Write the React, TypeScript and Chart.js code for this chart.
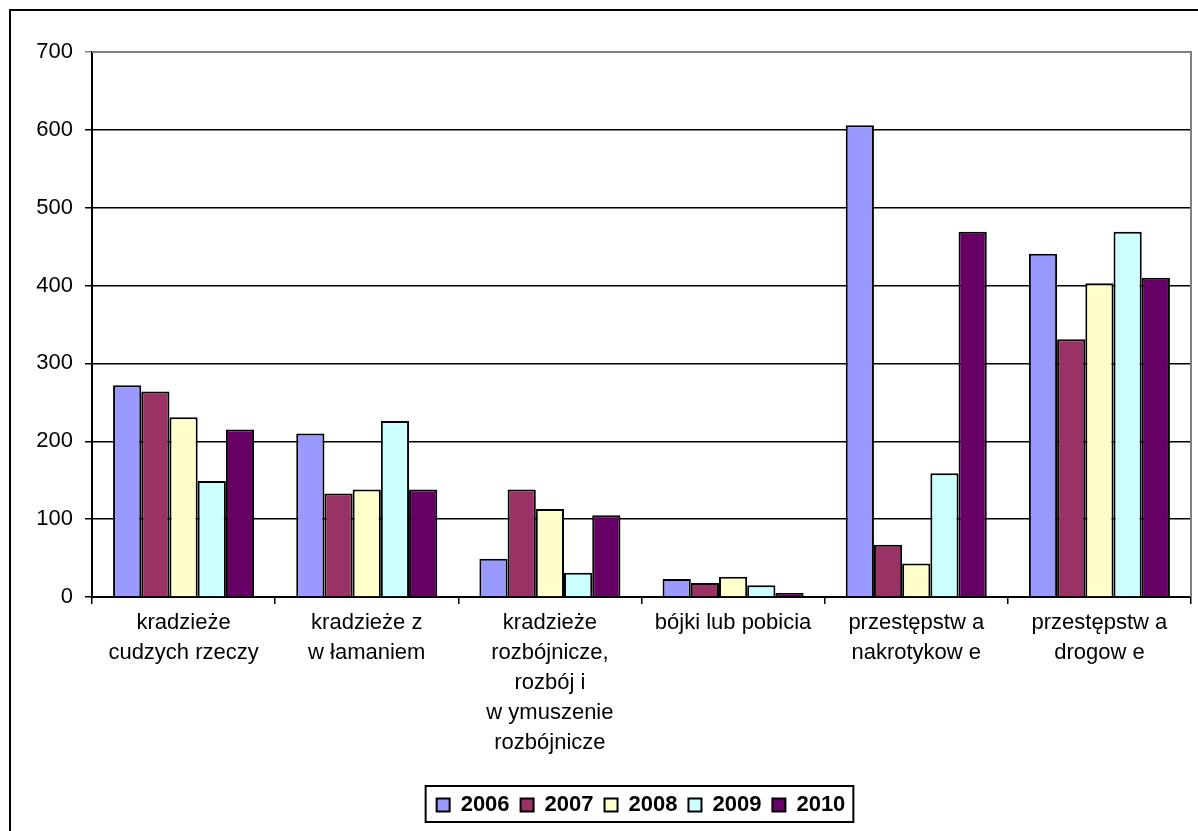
import React, { useEffect, useRef } from "react";
import { Chart, registerables } from "chart.js";

Chart.register(...registerables);

const categories: string[][] = [
  ["kradzieże", "cudzych rzeczy"],
  ["kradzieże z", "w łamaniem"],
  ["kradzieże", "rozbójnicze,", "rozbój i", "w ymuszenie", "rozbójnicze"],
  ["bójki lub pobicia"],
  ["przestępstw a", "nakrotykow e"],
  ["przestępstw a", "drogow e"],
];

const seriesNames = ["2006", "2007", "2008", "2009", "2010"];
const values2006 = [272, 210, 49, 23, 606, 441];
const values2007 = [264, 133, 138, 18, 67, 331];
const values2008 = [231, 138, 113, 26, 43, 403];
const values2009 = [149, 226, 31, 15, 159, 469];
const values2010 = [215, 138, 105, 5, 469, 410];
const seriesColors = ["#9999FF", "#993366", "#FFFFCC", "#CCFFFF", "#660066"];

const yMin = 0;
const yMax = 700;
const yStep = 100;

const FONT = "'Liberation Sans', Arial, sans-serif";
const LEGEND_CENTER_X = 641;

const framePlugin = {
  id: "framePlugin",
  afterLayout(chart: any) {
    const lg = chart.legend;
    if (lg) {
      const shift = LEGEND_CENTER_X - (lg.left + lg.right) / 2;
      lg.left += shift;
      lg.right += shift;
    }
  },
  beforeDraw(chart: any) {
    const ctx = chart.ctx;
    ctx.save();
    ctx.fillStyle = "#ffffff";
    ctx.fillRect(0, 0, chart.width, chart.height);
    ctx.restore();
  },
  afterDraw(chart: any) {
    const ctx = chart.ctx;
    const a = chart.chartArea;
    ctx.save();
    // outer frame
    ctx.strokeStyle = "#000";
    ctx.lineWidth = 2;
    ctx.beginPath();
    ctx.moveTo(10, chart.height + 5);
    ctx.lineTo(10, 10);
    ctx.lineTo(chart.width + 5, 10);
    ctx.stroke();
    // plot area gray border (top & right)
    ctx.strokeStyle = "#808080";
    ctx.lineWidth = 2;
    ctx.beginPath();
    ctx.moveTo(a.left, a.top);
    ctx.lineTo(a.right, a.top);
    ctx.lineTo(a.right, a.bottom);
    ctx.stroke();
    // legend border
    const lg = chart.legend;
    if (lg && lg.legendHitBoxes && lg.legendHitBoxes.length) {
      const hb = lg.legendHitBoxes;
      const l = Math.min(...hb.map((h: any) => h.left)) - 11;
      const r = Math.max(...hb.map((h: any) => h.left + h.width)) + 8;
      const t = hb[0].top - 8;
      const b = hb[0].top + hb[0].height + 6;
      ctx.strokeStyle = "#000";
      ctx.lineWidth = 2;
      ctx.strokeRect(l, t, r - l, b - t);
    }
    ctx.restore();
  },
};

export default function App() {
  const canvasRef = useRef<HTMLCanvasElement | null>(null);

  useEffect(() => {
    if (!canvasRef.current) return;
    const allValues = [values2006, values2007, values2008, values2009, values2010];
    const chart = new Chart(canvasRef.current, {
      type: "bar",
      data: {
        labels: categories,
        datasets: seriesNames.map((name, i) => ({
          label: name,
          data: allValues[i],
          backgroundColor: seriesColors[i],
          borderColor: "#000",
          borderWidth: 2,
          categoryPercentage: 0.77,
          barPercentage: 1.0,
        })),
      },
      options: {
        responsive: false,
        animation: false,
        devicePixelRatio: 1,
        layout: { padding: { left: 0, top: 52, right: 7, bottom: 5 } },
        plugins: {
          legend: {
            position: "bottom",
            labels: {
              boxWidth: 13,
              boxHeight: 13,
              padding: 11,
              color: "#000",
              font: { family: FONT, size: 22, weight: "bold" },
            },
          },
          tooltip: { enabled: false },
        },
        scales: {
          x: {
            grid: {
              offset: true,
              drawOnChartArea: false,
              drawTicks: true,
              tickLength: 7,
              color: "#000",
              lineWidth: 1.5,
            },
            border: { display: true, color: "#000", width: 2 },
            ticks: {
              autoSkip: false,
              maxRotation: 0,
              minRotation: 0,
              padding: 4,
              color: "#000",
              font: { family: FONT, size: 22, lineHeight: 1.36 },
            },
            afterFit: (scale: any) => {
              scale.height = 186;
            },
          },
          y: {
            min: yMin,
            max: yMax,
            ticks: {
              stepSize: yStep,
              padding: 12,
              color: "#000",
              font: { family: FONT, size: 22 },
            },
            grid: {
              color: (c: any) => (c.tick && c.tick.value === yMax ? "#808080" : "#000"),
              lineWidth: 1.5,
              tickLength: 7,
              drawTicks: true,
            },
            border: { display: true, color: "#000", width: 2 },
            afterFit: (scale: any) => {
              scale.width = 92;
            },
          },
        },
      },
      plugins: [framePlugin],
    } as any);
    return () => chart.destroy();
  }, []);

  return (
    <div style={{ position: "fixed", left: 0, top: 0, width: 1198, height: 831, overflow: "hidden", background: "#fff" }}>
      <canvas ref={canvasRef} width={1198} height={831} style={{ width: 1198, height: 831, display: "block" }} />
    </div>
  );
}
